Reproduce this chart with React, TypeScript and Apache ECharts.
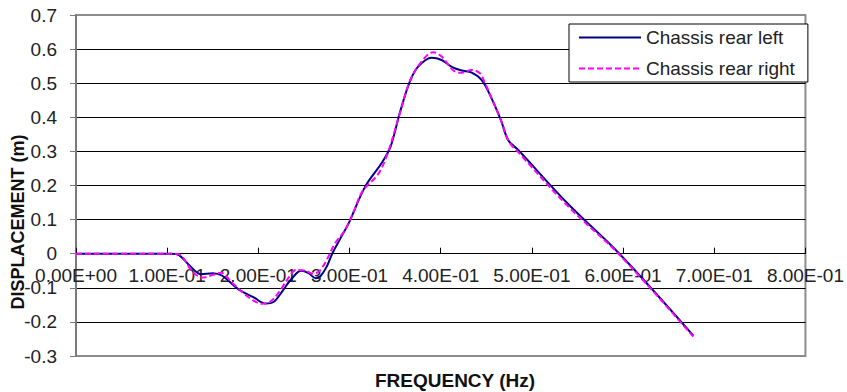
import React, { useEffect, useRef } from "react";
import * as echarts from "echarts";

// ---- data ----
const seriesNames = ["Chassis rear left", "Chassis rear right"];

const freqLeft = [
  0, 0.105, 0.113, 0.124, 0.137, 0.15, 0.16, 0.179, 0.195, 0.208, 0.217, 0.226,
  0.236, 0.247, 0.255, 0.263, 0.268, 0.275, 0.281, 0.29, 0.299, 0.317, 0.335,
  0.345, 0.355, 0.366, 0.375, 0.39, 0.401, 0.412, 0.423, 0.434, 0.445, 0.455,
  0.466, 0.474, 0.485, 0.54, 0.596, 0.677,
];
const dispLeft = [
  0, 0, -0.004, -0.033, -0.06, -0.057, -0.064, -0.106, -0.128, -0.146, -0.141,
  -0.111, -0.075, -0.05, -0.057, -0.072, -0.066, -0.038, 0.0, 0.045, 0.089,
  0.196, 0.265, 0.314, 0.412, 0.504, 0.548, 0.575, 0.568, 0.548, 0.537, 0.531,
  0.509, 0.46, 0.392, 0.333, 0.304, 0.145, 0.0, -0.24,
];

const freqRight = [
  0, 0.105, 0.113, 0.128, 0.139, 0.15, 0.159, 0.17, 0.186, 0.197, 0.204, 0.213,
  0.223, 0.234, 0.241, 0.252, 0.259, 0.266, 0.274, 0.284, 0.294, 0.304, 0.314,
  0.332, 0.343, 0.355, 0.366, 0.378, 0.392, 0.401, 0.414, 0.423, 0.434, 0.443,
  0.448, 0.456, 0.467, 0.475, 0.486, 0.54, 0.596, 0.677,
];
const dispRight = [
  0, 0, -0.002, -0.053, -0.07, -0.062, -0.056, -0.082, -0.121, -0.141, -0.147,
  -0.141, -0.111, -0.067, -0.048, -0.05, -0.058, -0.053, -0.023, 0.03, 0.065,
  0.12, 0.182, 0.236, 0.304, 0.41, 0.505, 0.56, 0.591, 0.578, 0.537, 0.531,
  0.539, 0.529, 0.504, 0.455, 0.385, 0.328, 0.295, 0.138, -0.003, -0.243,
];

const xTickLabels = [
  "0.00E+00", "1.00E-01", "2.00E-01", "3.00E-01", "4.00E-01",
  "5.00E-01", "6.00E-01", "7.00E-01", "8.00E-01",
];
const yTickLabels = ["-0.3", "-0.2", "-0.1", "0", "0.1", "0.2", "0.3", "0.4", "0.5", "0.6", "0.7"];

const xTitle = "FREQUENCY (Hz)";
const yTitle = "DISPLACEMENT (m)";

const FONT = "'Liberation Sans', Arial, sans-serif";

const Y_MIN = -0.3;
const Y_MAX = 0.7;
const GRID_H = 341;

export default function App() {
  const ref = useRef<HTMLDivElement>(null);

  useEffect(() => {
    if (!ref.current) return;
    const chart = echarts.init(ref.current, undefined, { renderer: "svg" });
    const leftData = freqLeft.map((f, i) => [f, dispLeft[i]]);
    const rightData = freqRight.map((f, i) => [f, dispRight[i]]);
    // lift the x axis from the bottom edge of the grid up to the zero line
    const zeroOffset = -((0 - Y_MIN) / (Y_MAX - Y_MIN)) * GRID_H;

    chart.setOption({
      animation: false,
      backgroundColor: "#ffffff",
      textStyle: { fontFamily: FONT },
      grid: {
        left: 76,
        top: 15,
        width: 733,
        height: GRID_H,
        show: true,
        borderColor: "#8c8c8c",
        borderWidth: 2,
        backgroundColor: "transparent",
      },
      xAxis: {
        type: "value",
        min: 0,
        max: 0.8,
        interval: 0.1,
        offset: zeroOffset,
        axisLine: { show: true, onZero: false, lineStyle: { color: "#000", width: 1 } },
        axisTick: { show: true, inside: true, length: 6, lineStyle: { color: "#000", width: 1 } },
        axisLabel: {
          margin: 12,
          fontSize: 19,
          color: "#222",
          fontFamily: FONT,
          formatter: (v: number) => xTickLabels[Math.round(v * 10)] ?? "",
        },
        splitLine: { show: false },
      },
      yAxis: {
        type: "value",
        min: Y_MIN,
        max: Y_MAX,
        interval: 0.1,
        axisLine: { show: true, lineStyle: { color: "#7a7a7a", width: 2 } },
        axisTick: { show: true, inside: false, length: 6, lineStyle: { color: "#7a7a7a", width: 1 } },
        axisLabel: {
          margin: 19,
          fontSize: 19,
          color: "#222",
          fontFamily: FONT,
          formatter: (v: number) => yTickLabels[Math.round(v * 10) + 3] ?? "",
        },
        splitLine: {
          show: true,
          showMinLine: false,
          showMaxLine: false,
          lineStyle: { color: "#000", width: 1 },
        },
      },
      legend: {
        orient: "vertical",
        left: 569,
        top: 24,
        padding: [4, 13, 4, 9],
        itemWidth: 62,
        itemHeight: 20,
        itemGap: 12,
        borderColor: "#000",
        borderWidth: 1,
        backgroundColor: "#fff",
        itemStyle: { opacity: 0 },
        textStyle: { fontSize: 19, color: "#222", fontFamily: FONT },
        data: seriesNames,
      },
      graphic: [
        {
          type: "text",
          x: 18,
          y: 222,
          rotation: Math.PI / 2,
          style: {
            text: yTitle,
            fontSize: 18,
            fontWeight: "bold",
            fontFamily: FONT,
            fill: "#111",
            align: "center",
            verticalAlign: "middle",
          },
        },
        {
          type: "text",
          x: 455,
          y: 380,
          style: {
            text: xTitle,
            fontSize: 19,
            fontWeight: "bold",
            fontFamily: FONT,
            fill: "#111",
            align: "center",
            verticalAlign: "middle",
          },
        },
      ],
      series: [
        {
          name: seriesNames[0],
          type: "line",
          data: leftData,
          smooth: 0.35,
          symbol: "none",
          lineStyle: { color: "#000080", width: 2 },
          itemStyle: { color: "#000080" },
          z: 3,
        },
        {
          name: seriesNames[1],
          type: "line",
          data: rightData,
          smooth: 0.35,
          symbol: "none",
          lineStyle: { color: "#ff00ff", width: 2, type: [6, 3] },
          itemStyle: { color: "#ff00ff" },
          z: 4,
        },
      ],
    });

    return () => chart.dispose();
  }, []);

  return (
    <div
      ref={ref}
      style={{ position: "fixed", left: 0, top: 0, width: 847, height: 392, background: "#fff" }}
    />
  );
}
